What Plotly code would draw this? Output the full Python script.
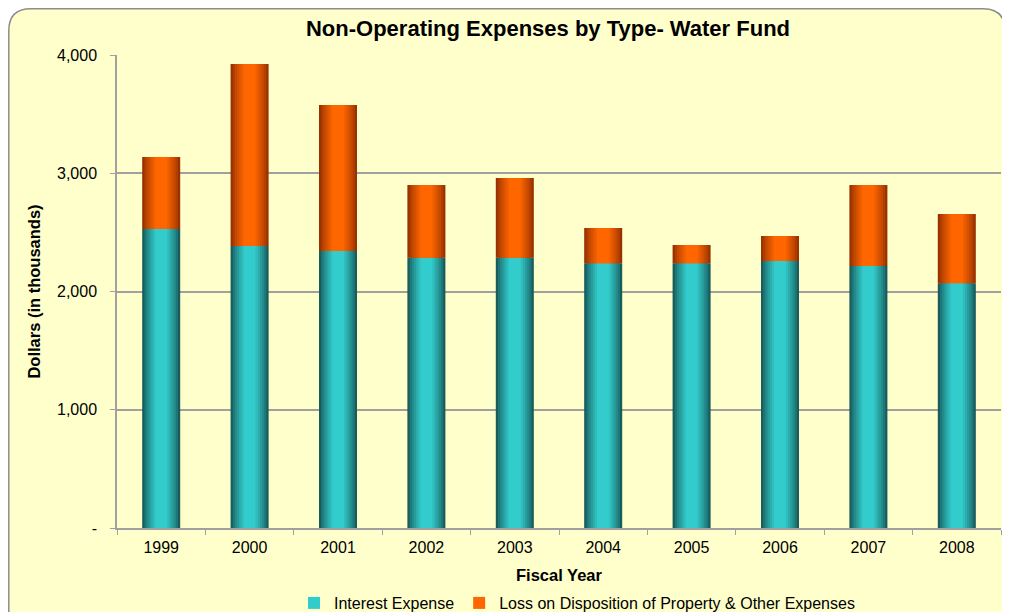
import plotly.graph_objects as go

years = ["1999", "2000", "2001", "2002", "2003", "2004", "2005", "2006", "2007", "2008"]
interest_expense = [2529, 2385, 2342, 2286, 2286, 2238, 2238, 2258, 2216, 2069]
loss_other = [608, 1539, 1235, 615, 674, 299, 155, 211, 685, 586]

y_tickvals = [0, 1000, 2000, 3000, 4000]
y_ticktext = ["-", "1,000", "2,000", "3,000", "4,000"]

OFF = 8  # default page body margin
W, H = 1010 - OFF, 612 - OFF
# plot area in page coords: x 117..1001, y 55..528
L, T = 117 - OFF, 55 - OFF
R = W - (1001 - OFF)
B = H - (528 - OFF)
PW, PH = W - L - R, H - T - B

def px_x(px):  # page px -> paper
    return (px - OFF - L) / PW

def px_y(py):
    return (H - B - (py - OFF)) / PH

def lerp(c1, c2, t):
    a = [int(c1[i:i+2], 16) for i in (1, 3, 5)]
    b = [int(c2[i:i+2], 16) for i in (1, 3, 5)]
    return "#%02x%02x%02x" % tuple(round(a[k] + (b[k] - a[k]) * t) for k in range(3))

bar_w = 0.43
n_layers = 7
fig = go.Figure()

teal_edge, teal_mid = "#185c5c", "#33cccc"
orng_edge, orng_mid = "#983200", "#ff6600"

for i in range(n_layers):
    frac = 1.0 - i * (0.8 / n_layers)
    t = (i / (n_layers - 1)) ** 0.8
    last = i == n_layers - 1
    fig.add_trace(go.Bar(
        x=years, y=interest_expense, width=bar_w * frac,
        marker=dict(color=lerp(teal_edge, teal_mid, t), line=dict(width=0)),
        name="Interest Expense", showlegend=last, legendrank=1,
    ))
    fig.add_trace(go.Bar(
        x=years, y=loss_other, base=interest_expense, width=bar_w * frac,
        marker=dict(color=lerp(orng_edge, orng_mid, t), line=dict(width=0)),
        name="Loss on Disposition of Property & Other Expenses", showlegend=last, legendrank=2,
    ))

# rounded outer chart box
x0, x1 = px_x(OFF + 0.8), px_x(1005)
y0, y1 = px_y(640), px_y(OFF + 0.8)
rx, ry = 22 / PW, 22 / PH
path = (f"M {x0},{y0} L {x0},{y1-ry} Q {x0},{y1} {x0+rx},{y1} "
        f"L {x1-rx},{y1} Q {x1},{y1} {x1},{y1-ry} L {x1},{y0} Z")
fig.add_shape(type="path", path=path, xref="paper", yref="paper",
              fillcolor="#ffffcc", line=dict(color="#8c8c8c", width=1.5), layer="below")

fig.update_layout(
    width=W, height=H,
    margin=dict(l=L, r=R, t=T, b=B, pad=0, autoexpand=False),
    paper_bgcolor="white", plot_bgcolor="rgba(0,0,0,0)",
    barmode="overlay", bargap=0.57,
    font=dict(family="Liberation Sans, Arial, sans-serif", size=16, color="black"),
    title=dict(text="<b>Non-Operating Expenses by Type- Water Fund</b>",
               x=px_x(548), xref="paper", xanchor="center",
               y=1 - (28 - OFF) / H, yref="container", yanchor="middle",
               font=dict(size=22)),
    xaxis=dict(
        type="category", showgrid=False, showline=True, linecolor="#a0a0a0", linewidth=1.5,
        ticks="outside", tickson="boundaries", ticklen=5, tickcolor="#a0a0a0",
        tickfont=dict(size=16), ticklabelstandoff=4, automargin=False,
        title=dict(text="<b>Fiscal Year</b>", font=dict(size=16.5), standoff=14),
        range=[-0.5, 9.5],
    ),
    yaxis=dict(
        range=[0, 4000], tickvals=y_tickvals, ticktext=y_ticktext,
        showgrid=True, gridcolor="#a0a0a0", gridwidth=1.5,
        showline=True, linecolor="#a0a0a0", linewidth=1.5,
        ticks="outside", ticklen=5, tickcolor="#a0a0a0", automargin=False,
        tickfont=dict(size=16), zeroline=False, ticklabelstandoff=10,
        title=dict(text="<b>Dollars (in thousands)</b>", font=dict(size=16.5), standoff=12),
    ),
    legend=dict(orientation="h", x=px_x(577), xanchor="center", y=px_y(603), yanchor="middle",
                bgcolor="rgba(0,0,0,0)", font=dict(size=16), itemwidth=30, tracegroupgap=0,
                itemsizing="constant"),
    showlegend=True,
)

fig.write_html("out.html")
